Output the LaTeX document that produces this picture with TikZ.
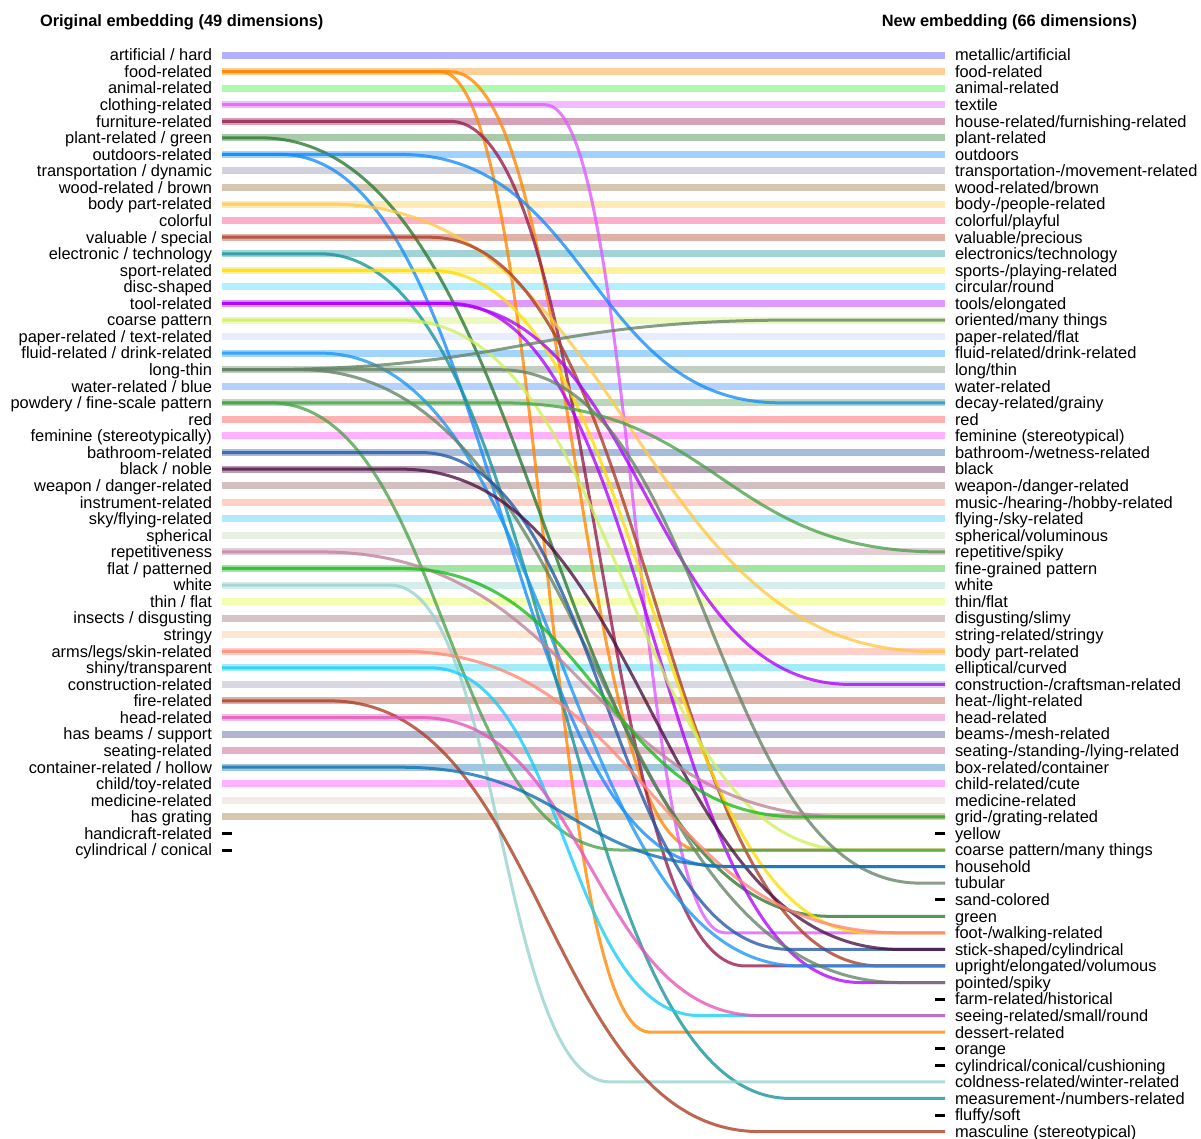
\documentclass[tikz,border=0pt]{standalone}
\usepackage{fontspec}
\setmainfont{Liberation Sans}
\usetikzlibrary{positioning,calc}

\definecolor{c0}{RGB}{58,58,255}
\definecolor{c1}{RGB}{255,135,0}
\definecolor{c2}{RGB}{58,240,58}
\definecolor{c3}{RGB}{220,90,255}
\definecolor{c4}{RGB}{150,25,75}
\definecolor{c5}{RGB}{40,120,45}
\definecolor{c6}{RGB}{20,140,250}
\definecolor{c7}{RGB}{143,143,175}
\definecolor{c8}{RGB}{148,113,60}
\definecolor{c9}{RGB}{255,200,70}
\definecolor{c10}{RGB}{255,58,118}
\definecolor{c11}{RGB}{170,60,35}
\definecolor{c12}{RGB}{20,145,155}
\definecolor{c13}{RGB}{255,220,0}
\definecolor{c14}{RGB}{63,218,255}
\definecolor{c15}{RGB}{175,0,255}
\definecolor{c16}{RGB}{205,240,90}
\definecolor{c17}{RGB}{198,208,255}
\definecolor{c18}{RGB}{25,150,245}
\definecolor{c19}{RGB}{100,130,100}
\definecolor{c20}{RGB}{68,143,255}
\definecolor{c21}{RGB}{75,160,75}
\definecolor{c22}{RGB}{255,58,58}
\definecolor{c23}{RGB}{255,58,255}
\definecolor{c24}{RGB}{35,85,165}
\definecolor{c25}{RGB}{75,15,65}
\definecolor{c26}{RGB}{143,98,98}
\definecolor{c27}{RGB}{255,140,110}
\definecolor{c28}{RGB}{58,200,243}
\definecolor{c29}{RGB}{198,218,180}
\definecolor{c30}{RGB}{190,130,155}
\definecolor{c31}{RGB}{25,185,25}
\definecolor{c32}{RGB}{150,210,205}
\definecolor{c33}{RGB}{223,250,58}
\definecolor{c34}{RGB}{150,108,108}
\definecolor{c35}{RGB}{255,193,143}
\definecolor{c36}{RGB}{255,135,115}
\definecolor{c37}{RGB}{20,205,245}
\definecolor{c38}{RGB}{158,158,183}
\definecolor{c39}{RGB}{170,60,35}
\definecolor{c40}{RGB}{225,85,185}
\definecolor{c41}{RGB}{63,68,148}
\definecolor{c42}{RGB}{180,63,105}
\definecolor{c43}{RGB}{15,110,175}
\definecolor{c44}{RGB}{255,58,255}
\definecolor{c45}{RGB}{223,208,198}
\definecolor{c46}{RGB}{158,118,55}

% colour, from row, to row, bend start, bend end
\newcommand{\embedlink}[5]{%
	\draw[link, #1] (L#2) -- ($(L#2)+(#4-222,0)$)
		.. controls ($(L#2)+({(#4+#5)/2-222},0)$) and ($(R#3)+({(#4+#5)/2-945},0)$)
		.. ($(R#3)+(#5-945,0)$) -- (R#3);}

\begin{document}
\begin{tikzpicture}[x=1pt, y=-1pt,
		band/.style={line width=7pt, opacity=0.4},
		link/.style={line width=3pt, opacity=0.78},
		nomatch/.style={line width=3pt, black},
		lbl/.style={font=\fontsize{16.4}{18}\selectfont, inner sep=0pt, outer sep=0pt, text height=11.7pt, text depth=0pt},
		heading/.style={lbl, font=\fontsize{16.4}{18}\selectfont\bfseries}]
	\useasboundingbox (0,0) rectangle (1201,1138);

	\node[heading, anchor=west] (oldtitle) at (40,21) {Original embedding (49 dimensions)};
	\node[heading, anchor=east] (newtitle) at (1137,21) {New embedding (66 dimensions)};

	% original dimensions
	\coordinate (L0) at (222,55.0); \node[lbl, left=10pt of L0] (l0) {artificial / hard};
	\coordinate (L1) at (222,71.6); \node[lbl, left=10pt of L1] (l1) {food-related};
	\coordinate (L2) at (222,88.1); \node[lbl, left=10pt of L2] (l2) {animal-related};
	\coordinate (L3) at (222,104.7); \node[lbl, left=10pt of L3] (l3) {clothing-related};
	\coordinate (L4) at (222,121.3); \node[lbl, left=10pt of L4] (l4) {furniture-related};
	\coordinate (L5) at (222,137.8); \node[lbl, left=10pt of L5] (l5) {plant-related / green};
	\coordinate (L6) at (222,154.4); \node[lbl, left=10pt of L6] (l6) {outdoors-related};
	\coordinate (L7) at (222,170.9); \node[lbl, left=10pt of L7] (l7) {transportation / dynamic};
	\coordinate (L8) at (222,187.5); \node[lbl, left=10pt of L8] (l8) {wood-related / brown};
	\coordinate (L9) at (222,204.1); \node[lbl, left=10pt of L9] (l9) {body part-related};
	\coordinate (L10) at (222,220.6); \node[lbl, left=10pt of L10] (l10) {colorful};
	\coordinate (L11) at (222,237.2); \node[lbl, left=10pt of L11] (l11) {valuable / special};
	\coordinate (L12) at (222,253.8); \node[lbl, left=10pt of L12] (l12) {electronic / technology};
	\coordinate (L13) at (222,270.3); \node[lbl, left=10pt of L13] (l13) {sport-related};
	\coordinate (L14) at (222,286.9); \node[lbl, left=10pt of L14] (l14) {disc-shaped};
	\coordinate (L15) at (222,303.4); \node[lbl, left=10pt of L15] (l15) {tool-related};
	\coordinate (L16) at (222,320.0); \node[lbl, left=10pt of L16] (l16) {coarse pattern};
	\coordinate (L17) at (222,336.6); \node[lbl, left=10pt of L17] (l17) {paper-related / text-related};
	\coordinate (L18) at (222,353.1); \node[lbl, left=10pt of L18] (l18) {fluid-related / drink-related};
	\coordinate (L19) at (222,369.7); \node[lbl, left=10pt of L19] (l19) {long-thin};
	\coordinate (L20) at (222,386.3); \node[lbl, left=10pt of L20] (l20) {water-related / blue};
	\coordinate (L21) at (222,402.8); \node[lbl, left=10pt of L21] (l21) {powdery / fine-scale pattern};
	\coordinate (L22) at (222,419.4); \node[lbl, left=10pt of L22] (l22) {red};
	\coordinate (L23) at (222,435.9); \node[lbl, left=10pt of L23] (l23) {feminine (stereotypically)};
	\coordinate (L24) at (222,452.5); \node[lbl, left=10pt of L24] (l24) {bathroom-related};
	\coordinate (L25) at (222,469.1); \node[lbl, left=10pt of L25] (l25) {black / noble};
	\coordinate (L26) at (222,485.6); \node[lbl, left=10pt of L26] (l26) {weapon / danger-related};
	\coordinate (L27) at (222,502.2); \node[lbl, left=10pt of L27] (l27) {instrument-related};
	\coordinate (L28) at (222,518.8); \node[lbl, left=10pt of L28] (l28) {sky/flying-related};
	\coordinate (L29) at (222,535.3); \node[lbl, left=10pt of L29] (l29) {spherical};
	\coordinate (L30) at (222,551.9); \node[lbl, left=10pt of L30] (l30) {repetitiveness};
	\coordinate (L31) at (222,568.4); \node[lbl, left=10pt of L31] (l31) {flat / patterned};
	\coordinate (L32) at (222,585.0); \node[lbl, left=10pt of L32] (l32) {white};
	\coordinate (L33) at (222,601.6); \node[lbl, left=10pt of L33] (l33) {thin / flat};
	\coordinate (L34) at (222,618.1); \node[lbl, left=10pt of L34] (l34) {insects / disgusting};
	\coordinate (L35) at (222,634.7); \node[lbl, left=10pt of L35] (l35) {stringy};
	\coordinate (L36) at (222,651.3); \node[lbl, left=10pt of L36] (l36) {arms/legs/skin-related};
	\coordinate (L37) at (222,667.8); \node[lbl, left=10pt of L37] (l37) {shiny/transparent};
	\coordinate (L38) at (222,684.4); \node[lbl, left=10pt of L38] (l38) {construction-related};
	\coordinate (L39) at (222,700.9); \node[lbl, left=10pt of L39] (l39) {fire-related};
	\coordinate (L40) at (222,717.5); \node[lbl, left=10pt of L40] (l40) {head-related};
	\coordinate (L41) at (222,734.1); \node[lbl, left=10pt of L41] (l41) {has beams / support};
	\coordinate (L42) at (222,750.6); \node[lbl, left=10pt of L42] (l42) {seating-related};
	\coordinate (L43) at (222,767.2); \node[lbl, left=10pt of L43] (l43) {container-related / hollow};
	\coordinate (L44) at (222,783.8); \node[lbl, left=10pt of L44] (l44) {child/toy-related};
	\coordinate (L45) at (222,800.3); \node[lbl, left=10pt of L45] (l45) {medicine-related};
	\coordinate (L46) at (222,816.9); \node[lbl, left=10pt of L46] (l46) {has grating};
	\coordinate (L47) at (222,833.4); \node[lbl, left=10pt of L47] (l47) {handicraft-related};
	\coordinate (L48) at (222,850.0); \node[lbl, left=10pt of L48] (l48) {cylindrical / conical};

	% new dimensions
	\coordinate (R0) at (945,55.0); \node[lbl, right=10pt of R0] (r0) {metallic/artificial};
	\coordinate (R1) at (945,71.6); \node[lbl, right=10pt of R1] (r1) {food-related};
	\coordinate (R2) at (945,88.1); \node[lbl, right=10pt of R2] (r2) {animal-related};
	\coordinate (R3) at (945,104.7); \node[lbl, right=10pt of R3] (r3) {textile};
	\coordinate (R4) at (945,121.3); \node[lbl, right=10pt of R4] (r4) {house-related/furnishing-related};
	\coordinate (R5) at (945,137.8); \node[lbl, right=10pt of R5] (r5) {plant-related};
	\coordinate (R6) at (945,154.4); \node[lbl, right=10pt of R6] (r6) {outdoors};
	\coordinate (R7) at (945,170.9); \node[lbl, right=10pt of R7] (r7) {transportation-/movement-related};
	\coordinate (R8) at (945,187.5); \node[lbl, right=10pt of R8] (r8) {wood-related/brown};
	\coordinate (R9) at (945,204.1); \node[lbl, right=10pt of R9] (r9) {body-/people-related};
	\coordinate (R10) at (945,220.6); \node[lbl, right=10pt of R10] (r10) {colorful/playful};
	\coordinate (R11) at (945,237.2); \node[lbl, right=10pt of R11] (r11) {valuable/precious};
	\coordinate (R12) at (945,253.8); \node[lbl, right=10pt of R12] (r12) {electronics/technology};
	\coordinate (R13) at (945,270.3); \node[lbl, right=10pt of R13] (r13) {sports-/playing-related};
	\coordinate (R14) at (945,286.9); \node[lbl, right=10pt of R14] (r14) {circular/round};
	\coordinate (R15) at (945,303.4); \node[lbl, right=10pt of R15] (r15) {tools/elongated};
	\coordinate (R16) at (945,320.0); \node[lbl, right=10pt of R16] (r16) {oriented/many things};
	\coordinate (R17) at (945,336.6); \node[lbl, right=10pt of R17] (r17) {paper-related/flat};
	\coordinate (R18) at (945,353.1); \node[lbl, right=10pt of R18] (r18) {fluid-related/drink-related};
	\coordinate (R19) at (945,369.7); \node[lbl, right=10pt of R19] (r19) {long/thin};
	\coordinate (R20) at (945,386.3); \node[lbl, right=10pt of R20] (r20) {water-related};
	\coordinate (R21) at (945,402.8); \node[lbl, right=10pt of R21] (r21) {decay-related/grainy};
	\coordinate (R22) at (945,419.4); \node[lbl, right=10pt of R22] (r22) {red};
	\coordinate (R23) at (945,435.9); \node[lbl, right=10pt of R23] (r23) {feminine (stereotypical)};
	\coordinate (R24) at (945,452.5); \node[lbl, right=10pt of R24] (r24) {bathroom-/wetness-related};
	\coordinate (R25) at (945,469.1); \node[lbl, right=10pt of R25] (r25) {black};
	\coordinate (R26) at (945,485.6); \node[lbl, right=10pt of R26] (r26) {weapon-/danger-related};
	\coordinate (R27) at (945,502.2); \node[lbl, right=10pt of R27] (r27) {music-/hearing-/hobby-related};
	\coordinate (R28) at (945,518.8); \node[lbl, right=10pt of R28] (r28) {flying-/sky-related};
	\coordinate (R29) at (945,535.3); \node[lbl, right=10pt of R29] (r29) {spherical/voluminous};
	\coordinate (R30) at (945,551.9); \node[lbl, right=10pt of R30] (r30) {repetitive/spiky};
	\coordinate (R31) at (945,568.4); \node[lbl, right=10pt of R31] (r31) {fine-grained pattern};
	\coordinate (R32) at (945,585.0); \node[lbl, right=10pt of R32] (r32) {white};
	\coordinate (R33) at (945,601.6); \node[lbl, right=10pt of R33] (r33) {thin/flat};
	\coordinate (R34) at (945,618.1); \node[lbl, right=10pt of R34] (r34) {disgusting/slimy};
	\coordinate (R35) at (945,634.7); \node[lbl, right=10pt of R35] (r35) {string-related/stringy};
	\coordinate (R36) at (945,651.3); \node[lbl, right=10pt of R36] (r36) {body part-related};
	\coordinate (R37) at (945,667.8); \node[lbl, right=10pt of R37] (r37) {elliptical/curved};
	\coordinate (R38) at (945,684.4); \node[lbl, right=10pt of R38] (r38) {construction-/craftsman-related};
	\coordinate (R39) at (945,700.9); \node[lbl, right=10pt of R39] (r39) {heat-/light-related};
	\coordinate (R40) at (945,717.5); \node[lbl, right=10pt of R40] (r40) {head-related};
	\coordinate (R41) at (945,734.1); \node[lbl, right=10pt of R41] (r41) {beams-/mesh-related};
	\coordinate (R42) at (945,750.6); \node[lbl, right=10pt of R42] (r42) {seating-/standing-/lying-related};
	\coordinate (R43) at (945,767.2); \node[lbl, right=10pt of R43] (r43) {box-related/container};
	\coordinate (R44) at (945,783.8); \node[lbl, right=10pt of R44] (r44) {child-related/cute};
	\coordinate (R45) at (945,800.3); \node[lbl, right=10pt of R45] (r45) {medicine-related};
	\coordinate (R46) at (945,816.9); \node[lbl, right=10pt of R46] (r46) {grid-/grating-related};
	\coordinate (R47) at (945,833.4); \node[lbl, right=10pt of R47] (r47) {yellow};
	\coordinate (R48) at (945,850.0); \node[lbl, right=10pt of R48] (r48) {coarse pattern/many things};
	\coordinate (R49) at (945,866.6); \node[lbl, right=10pt of R49] (r49) {household};
	\coordinate (R50) at (945,883.1); \node[lbl, right=10pt of R50] (r50) {tubular};
	\coordinate (R51) at (945,899.7); \node[lbl, right=10pt of R51] (r51) {sand-colored};
	\coordinate (R52) at (945,916.3); \node[lbl, right=10pt of R52] (r52) {green};
	\coordinate (R53) at (945,932.8); \node[lbl, right=10pt of R53] (r53) {foot-/walking-related};
	\coordinate (R54) at (945,949.4); \node[lbl, right=10pt of R54] (r54) {stick-shaped/cylindrical};
	\coordinate (R55) at (945,965.9); \node[lbl, right=10pt of R55] (r55) {upright/elongated/volumous};
	\coordinate (R56) at (945,982.5); \node[lbl, right=10pt of R56] (r56) {pointed/spiky};
	\coordinate (R57) at (945,999.1); \node[lbl, right=10pt of R57] (r57) {farm-related/historical};
	\coordinate (R58) at (945,1015.6); \node[lbl, right=10pt of R58] (r58) {seeing-related/small/round};
	\coordinate (R59) at (945,1032.2); \node[lbl, right=10pt of R59] (r59) {dessert-related};
	\coordinate (R60) at (945,1048.8); \node[lbl, right=10pt of R60] (r60) {orange};
	\coordinate (R61) at (945,1065.3); \node[lbl, right=10pt of R61] (r61) {cylindrical/conical/cushioning};
	\coordinate (R62) at (945,1081.9); \node[lbl, right=10pt of R62] (r62) {coldness-related/winter-related};
	\coordinate (R63) at (945,1098.4); \node[lbl, right=10pt of R63] (r63) {measurement-/numbers-related};
	\coordinate (R64) at (945,1115.0); \node[lbl, right=10pt of R64] (r64) {fluffy/soft};
	\coordinate (R65) at (945,1131.6); \node[lbl, right=10pt of R65] (r65) {masculine (stereotypical)};

	% dimensions that stay
	\draw[band, c0] (L0) -- (R0);
	\draw[band, c1] (L1) -- (R1);
	\draw[band, c2] (L2) -- (R2);
	\draw[band, c3] (L3) -- (R3);
	\draw[band, c4] (L4) -- (R4);
	\draw[band, c5] (L5) -- (R5);
	\draw[band, c6] (L6) -- (R6);
	\draw[band, c7] (L7) -- (R7);
	\draw[band, c8] (L8) -- (R8);
	\draw[band, c9] (L9) -- (R9);
	\draw[band, c10] (L10) -- (R10);
	\draw[band, c11] (L11) -- (R11);
	\draw[band, c12] (L12) -- (R12);
	\draw[band, c13] (L13) -- (R13);
	\draw[band, c14] (L14) -- (R14);
	\draw[band, c15] (L15) -- (R15);
	\draw[band, c16] (L16) -- (R16);
	\draw[band, c17] (L17) -- (R17);
	\draw[band, c18] (L18) -- (R18);
	\draw[band, c19] (L19) -- (R19);
	\draw[band, c20] (L20) -- (R20);
	\draw[band, c21] (L21) -- (R21);
	\draw[band, c22] (L22) -- (R22);
	\draw[band, c23] (L23) -- (R23);
	\draw[band, c24] (L24) -- (R24);
	\draw[band, c25] (L25) -- (R25);
	\draw[band, c26] (L26) -- (R26);
	\draw[band, c27] (L27) -- (R27);
	\draw[band, c28] (L28) -- (R28);
	\draw[band, c29] (L29) -- (R29);
	\draw[band, c30] (L30) -- (R30);
	\draw[band, c31] (L31) -- (R31);
	\draw[band, c32] (L32) -- (R32);
	\draw[band, c33] (L33) -- (R33);
	\draw[band, c34] (L34) -- (R34);
	\draw[band, c35] (L35) -- (R35);
	\draw[band, c36] (L36) -- (R36);
	\draw[band, c37] (L37) -- (R37);
	\draw[band, c38] (L38) -- (R38);
	\draw[band, c39] (L39) -- (R39);
	\draw[band, c40] (L40) -- (R40);
	\draw[band, c41] (L41) -- (R41);
	\draw[band, c42] (L42) -- (R42);
	\draw[band, c43] (L43) -- (R43);
	\draw[band, c44] (L44) -- (R44);
	\draw[band, c45] (L45) -- (R45);
	\draw[band, c46] (L46) -- (R46);

	% no counterpart
	\draw[nomatch] (L47) -- ++(10,0);
	\draw[nomatch] (L48) -- ++(10,0);
	\draw[nomatch] (R47) -- ++(-10,0);
	\draw[nomatch] (R51) -- ++(-10,0);
	\draw[nomatch] (R57) -- ++(-10,0);
	\draw[nomatch] (R60) -- ++(-10,0);
	\draw[nomatch] (R61) -- ++(-10,0);
	\draw[nomatch] (R64) -- ++(-10,0);

	% dimensions that move
	\embedlink{c1}{1}{59}{440}{650}
	\embedlink{c1}{1}{48}{450}{700}
	\embedlink{c3}{3}{53}{545}{725}
	\embedlink{c4}{4}{55}{450}{745}
	\embedlink{c5}{5}{52}{260}{830}
	\embedlink{c6}{6}{21}{400}{780}
	\embedlink{c6}{6}{49}{280}{720}
	\embedlink{c9}{9}{36}{330}{930}
	\embedlink{c11}{11}{55}{430}{880}
	\embedlink{c12}{12}{63}{320}{790}
	\embedlink{c13}{13}{53}{430}{870}
	\embedlink{c15}{15}{38}{440}{850}
	\embedlink{c15}{15}{56}{450}{860}
	\embedlink{c16}{16}{48}{400}{850}
	\embedlink{c18}{18}{55}{320}{800}
	\embedlink{c19}{19}{16}{250}{800}
	\embedlink{c19}{19}{50}{500}{920}
	\embedlink{c19}{19}{56}{300}{900}
	\embedlink{c21}{21}{30}{500}{940}
	\embedlink{c21}{21}{48}{270}{620}
	\embedlink{c24}{24}{54}{420}{790}
	\embedlink{c25}{25}{54}{400}{900}
	\embedlink{c30}{30}{46}{320}{850}
	\embedlink{c31}{31}{46}{400}{800}
	\embedlink{c32}{32}{62}{390}{610}
	\embedlink{c36}{36}{53}{400}{900}
	\embedlink{c37}{37}{58}{430}{700}
	\embedlink{c39}{39}{65}{330}{760}
	\embedlink{c40}{40}{58}{420}{760}
	\embedlink{c43}{43}{49}{400}{740}
\end{tikzpicture}
\end{document}
